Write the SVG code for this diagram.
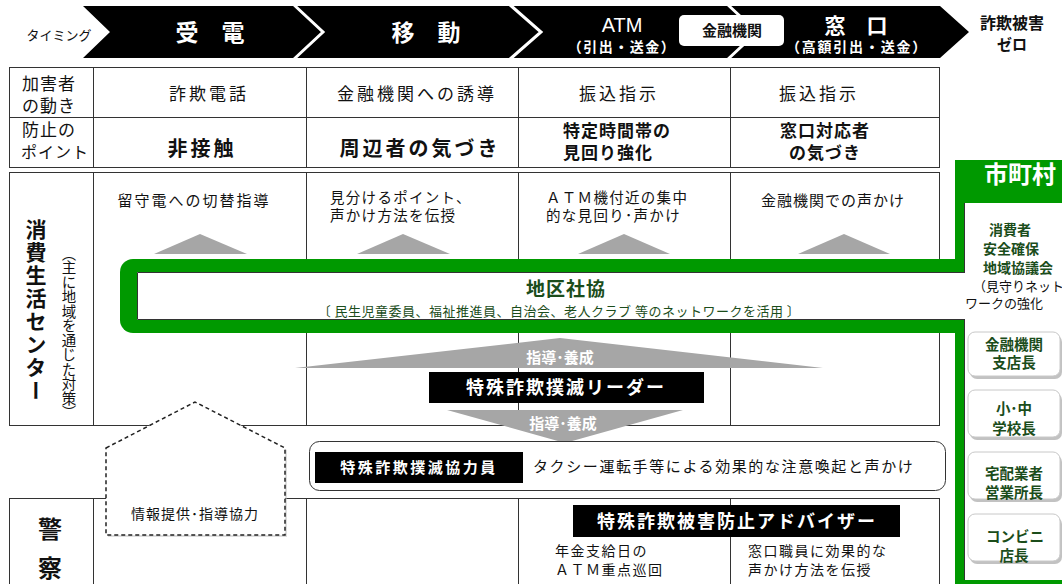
<svg xmlns="http://www.w3.org/2000/svg" width="1062" height="584" viewBox="0 0 1062 584">
<style>
text{font-family:"Noto Sans CJK JP","Noto Sans",sans-serif;fill:#111}
.b{font-weight:bold}
.w{fill:#fff}
.c{text-anchor:middle}
.g{fill:#1b4d1b}
.cell{fill:none;stroke:#333;stroke-width:1}
.tri{fill:#a6a6a6}
.sep{fill:none;stroke:#fff;stroke-width:3}
.btn{fill:#fff;stroke:#c8c8c8;stroke-width:1}
.sh{fill:#9a9a9a;opacity:.6}
.vt{writing-mode:vertical-rl}
</style>
<rect width="1062" height="584" fill="#fff"/>

<g id="banner">
<polygon points="83,6 940,6 969,32 940,58 83,58 110,32" fill="#000"/>
<polyline class="sep" points="293,4 323,32 293,60"/>
<polyline class="sep" points="509,4 541,32 509,60"/>
<polyline class="sep" points="727,4 757,32 727,60"/>
<text x="59" y="40" class="c" font-size="13">タイミング</text>
<text x="210" y="41" class="c b w" font-size="23">受　電</text>
<text x="426" y="41" class="c b w" font-size="23">移　動</text>
<text class="c w" font-size="20"><tspan x="622" y="32" style="font-family:'Liberation Sans',sans-serif">ATM</tspan><tspan x="622" y="52" font-size="14" font-weight="bold" letter-spacing="1.5">（引出・送金）</tspan></text>
<rect x="679" y="15" width="105" height="31" rx="5" fill="#fff"/>
<text x="732" y="36" class="c b" font-size="15">金融機関</text>
<text class="c b w" font-size="21"><tspan x="856" y="33">窓　口</tspan><tspan x="857" y="52" font-size="14" letter-spacing="1.8">（高額引出・送金）</tspan></text>
<text class="c b" font-size="16"><tspan x="1012" y="29">詐欺被害</tspan><tspan x="1012" y="50" font-size="15">ゼロ</tspan></text>
</g>

<g id="table-top">
<rect class="cell" x="9.5" y="67.5" width="930" height="100"/>
<path class="cell" d="M9.5,117.5H939.5M93.5,67.5V167.5M306.5,67.5V167.5M518.5,67.5V167.5M730.5,67.5V167.5"/>
<text font-size="17" letter-spacing="1"><tspan x="22" y="90">加害者</tspan><tspan x="22" y="112">の動き</tspan></text>
<text font-size="17" letter-spacing="1"><tspan x="22" y="136">防止の</tspan><tspan x="21" y="158" font-size="16">ポイント</tspan></text>
<text x="209" y="100" class="c" font-size="17" letter-spacing="3">詐欺電話</text>
<text x="417" y="100" class="c" font-size="17" letter-spacing="3">金融機関への誘導</text>
<text x="619" y="100" class="c" font-size="17" letter-spacing="3">振込指示</text>
<text x="819" y="100" class="c" font-size="17" letter-spacing="3">振込指示</text>
<text x="202" y="156" class="c b" font-size="20" letter-spacing="3">非接触</text>
<text x="420" y="156" class="c b" font-size="20" letter-spacing="3">周辺者の気づき</text>
<text class="b" font-size="17" letter-spacing="1"><tspan x="563" y="137">特定時間帯の</tspan><tspan x="563" y="159">見回り強化</tspan></text>
<text class="c b" font-size="17" letter-spacing="1"><tspan x="825" y="137">窓口対応者</tspan><tspan x="825" y="159">の気づき</tspan></text>
</g>

<g id="center-section">
<rect class="cell" x="9.5" y="172.5" width="930" height="253"/>
<path class="cell" d="M93.5,172.5V425.5M306.5,172.5V425.5M518.5,172.5V425.5M730.5,172.5V425.5"/>
<text x="36" y="219" class="vt b" font-size="21" letter-spacing="2">消費生活センター</text>
<text x="69" y="246" class="vt" font-size="14.5">（主に地域を通じた対策）</text>
<text x="194" y="206" class="c" font-size="15" letter-spacing="2">留守電への切替指導</text>
<text font-size="14.5" letter-spacing="1.3"><tspan x="330" y="203">見分けるポイント、</tspan><tspan x="330" y="221">声かけ方法を伝授</tspan></text>
<text font-size="14.5" letter-spacing="1.3"><tspan x="546" y="203">ＡＴＭ機付近の集中</tspan><tspan x="546" y="221">的な見回り･声かけ</tspan></text>
<text x="833" y="206" class="c" font-size="15" letter-spacing="1">金融機関での声かけ</text>
</g>

<g id="police-section">
<rect class="cell" x="9.5" y="498.5" width="930" height="100"/>
<path class="cell" d="M93.5,498.5V584M306.5,498.5V584M518.5,498.5V584M730.5,498.5V584"/>
<text class="c b" font-size="24"><tspan x="50" y="538">警</tspan><tspan x="50" y="577">察</tspan></text>
</g>

<g id="connectors">
<polygon class="tri" points="154,254 247,254 200,234"/>
<polygon class="tri" points="357,254 450,254 403,234"/>
<polygon class="tri" points="578,254 670,254 624,234"/>
<polygon class="tri" points="798,254 890,254 844,234"/>
<polygon class="tri" points="295,368 823,368 560,338"/>
<polygon class="tri" points="447,410 683,410 565,443"/>
<text x="560" y="363" class="c b w" font-size="15">指導･養成</text>
<text x="563" y="429" class="c b w" font-size="15">指導･養成</text>
</g>

<g id="shichoson">
<rect x="120" y="259" width="850" height="74" rx="13" fill="#009900"/>
<rect x="955" y="160" width="107" height="424" fill="#009900"/>
<rect x="964" y="203" width="98" height="377" fill="#fff"/>
<path d="M964.5,203V273M964.5,319V580" fill="none" stroke="#333" stroke-width="1"/>
<text x="1020" y="183" class="c b w" font-size="24">市町村</text>
<text class="c b g" font-size="14"><tspan x="1010" y="235">消費者</tspan><tspan x="1011" y="254">安全確保</tspan><tspan x="1018" y="273">地域協議会</tspan></text>
<text font-size="13"><tspan x="973" y="291">（見守りネット</tspan><tspan x="965" y="308">ワークの強化</tspan></text>
<g id="btn-kinyu">
<rect class="sh" x="970" y="335" width="92" height="44" rx="7"/>
<rect class="btn" x="968" y="332" width="92" height="44" rx="7"/>
<text class="c b g" font-size="14.5"><tspan x="1014" y="350">金融機関</tspan><tspan x="1014" y="368">支店長</tspan></text>
</g>
<g id="btn-school">
<rect class="sh" x="970" y="393" width="92" height="47" rx="7"/>
<rect class="btn" x="968" y="390" width="92" height="47" rx="7"/>
<text class="c b g" font-size="14.5"><tspan x="1014" y="414">小･中</tspan><tspan x="1014" y="434">学校長</tspan></text>
</g>
<g id="btn-takuhai">
<rect class="sh" x="970" y="455" width="92" height="47" rx="7"/>
<rect class="btn" x="968" y="452" width="92" height="47" rx="7"/>
<text class="c b g" font-size="14.5"><tspan x="1014" y="479">宅配業者</tspan><tspan x="1014" y="498">営業所長</tspan></text>
</g>
<g id="btn-konbini">
<rect class="sh" x="970" y="517" width="92" height="47" rx="7"/>
<rect class="btn" x="968" y="514" width="92" height="47" rx="7"/>
<text class="c b g" font-size="14.5"><tspan x="1015" y="542">コンビニ</tspan><tspan x="1014" y="561">店長</tspan></text>
</g>
</g>

<g id="chiku-shakyo">
<rect x="137" y="272" width="829" height="48" fill="#fff"/>
<path d="M965,272.5H137.5V319.5H965" fill="none" stroke="#333" stroke-width="1"/>
<text x="566" y="296" class="c b g" font-size="19" letter-spacing="1">地区社協</text>
<text x="559" y="316" class="c g" font-size="13" letter-spacing="0.5">〔 民生児童委員、福祉推進員、自治会、老人クラブ 等のネットワークを活用 〕</text>
</g>

<g id="leader">
<rect x="429" y="372" width="275" height="31" fill="#000"/>
<text x="566" y="394" class="c b w" font-size="18" letter-spacing="2">特殊詐欺撲滅リーダー</text>
</g>

<g id="kyoryokuin">
<rect x="309.5" y="441.5" width="636" height="49" rx="10" fill="#fff" stroke="#333" stroke-width="1"/>
<rect x="315" y="452" width="208" height="31" fill="#000"/>
<text x="419" y="473" class="c b w" font-size="15" letter-spacing="2.5">特殊詐欺撲滅協力員</text>
<text x="533" y="472" font-size="15" letter-spacing="1.6">タクシー運転手等による効果的な注意喚起と声かけ</text>
</g>

<g id="joho">
<polygon points="108,450 197,404 287,450 287,537 108,537" fill="#bbb" opacity=".5"/>
<polygon points="106,448 195,402 285,448 285,535 106,535" fill="#fff" stroke="#222" stroke-width="1.5" stroke-dasharray="4,3"/>
<text x="195" y="519" class="c" font-size="14" letter-spacing="1">情報提供･指導協力</text>
</g>

<g id="adviser">
<rect x="573" y="505" width="327" height="32" fill="#000"/>
<text x="737" y="528" class="c b w" font-size="18" letter-spacing="2">特殊詐欺被害防止アドバイザー</text>
<text font-size="14" letter-spacing="1.5"><tspan x="555" y="556">年金支給日の</tspan><tspan x="555" y="575">ＡＴＭ重点巡回</tspan></text>
<text font-size="14" letter-spacing="1.5"><tspan x="748" y="556">窓口職員に効果的な</tspan><tspan x="748" y="575">声かけ方法を伝授</tspan></text>
</g>
</svg>
